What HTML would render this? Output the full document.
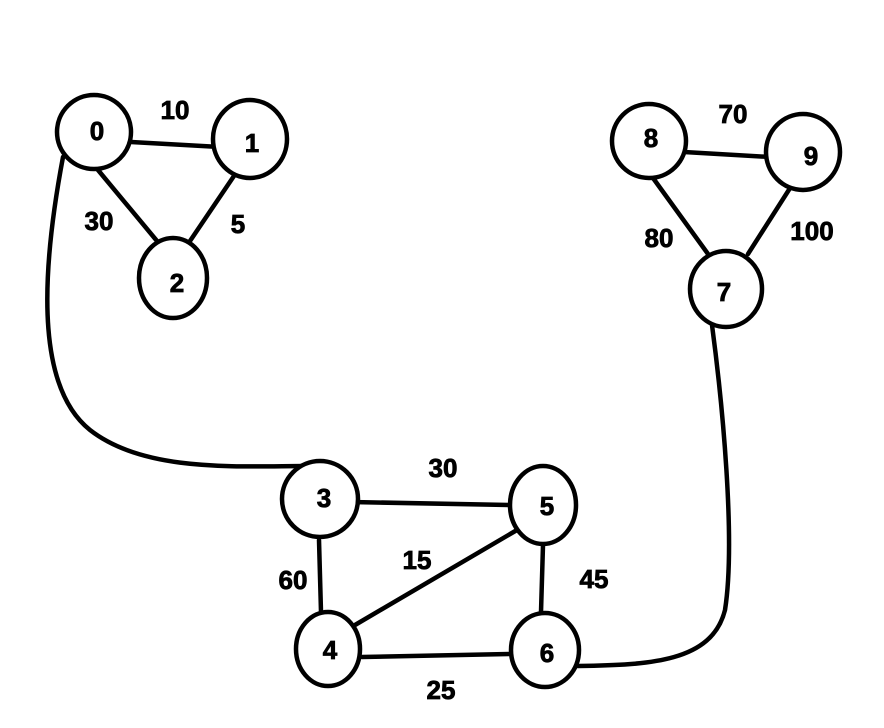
<!DOCTYPE html>
<html><head><style>
html,body{margin:0;padding:0;background:#fff;}
svg{display:block;}
text{font-family:"Liberation Sans",sans-serif;font-weight:bold;font-size:26px;fill:#000;text-anchor:middle;stroke:#000;stroke-width:0.8;}
</style></head><body>
<svg width="884" height="728" viewBox="0 0 884 728">
<g stroke="#000" stroke-width="4.5" fill="none" stroke-linecap="round">
<line x1="131" y1="142" x2="220" y2="147"/>
<line x1="98" y1="170" x2="157" y2="241"/>
<line x1="238" y1="170" x2="190" y2="241"/>
<line x1="684" y1="152" x2="770" y2="157"/>
<line x1="653" y1="178" x2="708" y2="254"/>
<line x1="792" y1="185" x2="748" y2="254"/>
<line x1="351" y1="502" x2="511" y2="505"/>
<line x1="319" y1="540" x2="321" y2="612"/>
<line x1="355" y1="625" x2="517" y2="530"/>
<line x1="543" y1="545" x2="541" y2="612"/>
<line x1="362" y1="657" x2="511" y2="654"/>
<path d="M63,157 C38,290 40,390 90,430 C145,473 240,466 307,466"/>
<path d="M712,325 C722,400 736,540 725,610 C712,662 650,665 578,666"/>
</g>
<g stroke="#000" stroke-width="4.5" fill="#fff">
<ellipse cx="94" cy="132" rx="37" ry="37"/>
<ellipse cx="250" cy="139" rx="37" ry="39"/>
<ellipse cx="173" cy="278" rx="34" ry="40"/>
<ellipse cx="649" cy="141" rx="37" ry="37"/>
<ellipse cx="803" cy="152" rx="37" ry="38"/>
<ellipse cx="726" cy="289" rx="36" ry="38"/>
<ellipse cx="320" cy="499" rx="38" ry="38"/>
<ellipse cx="543" cy="505" rx="33" ry="39"/>
<ellipse cx="328" cy="649" rx="32" ry="37"/>
<ellipse cx="545" cy="650" rx="34" ry="37"/>
</g>
<text x="97" y="140">0</text>
<text x="252" y="152">1</text>
<text x="177" y="292">2</text>
<text x="324" y="507">3</text>
<text x="330" y="659">4</text>
<text x="547" y="515">5</text>
<text x="547" y="662">6</text>
<text x="724" y="301">7</text>
<text x="651" y="147">8</text>
<text x="811" y="165">9</text>
<text x="175" y="119">10</text>
<text x="99" y="230">30</text>
<text x="238" y="233">5</text>
<text x="733" y="123">70</text>
<text x="659" y="247">80</text>
<text x="812" y="240">100</text>
<text x="443" y="477">30</text>
<text x="417" y="569">15</text>
<text x="293" y="589">60</text>
<text x="594" y="588">45</text>
<text x="441" y="699">25</text>
</svg>
</body></html>
